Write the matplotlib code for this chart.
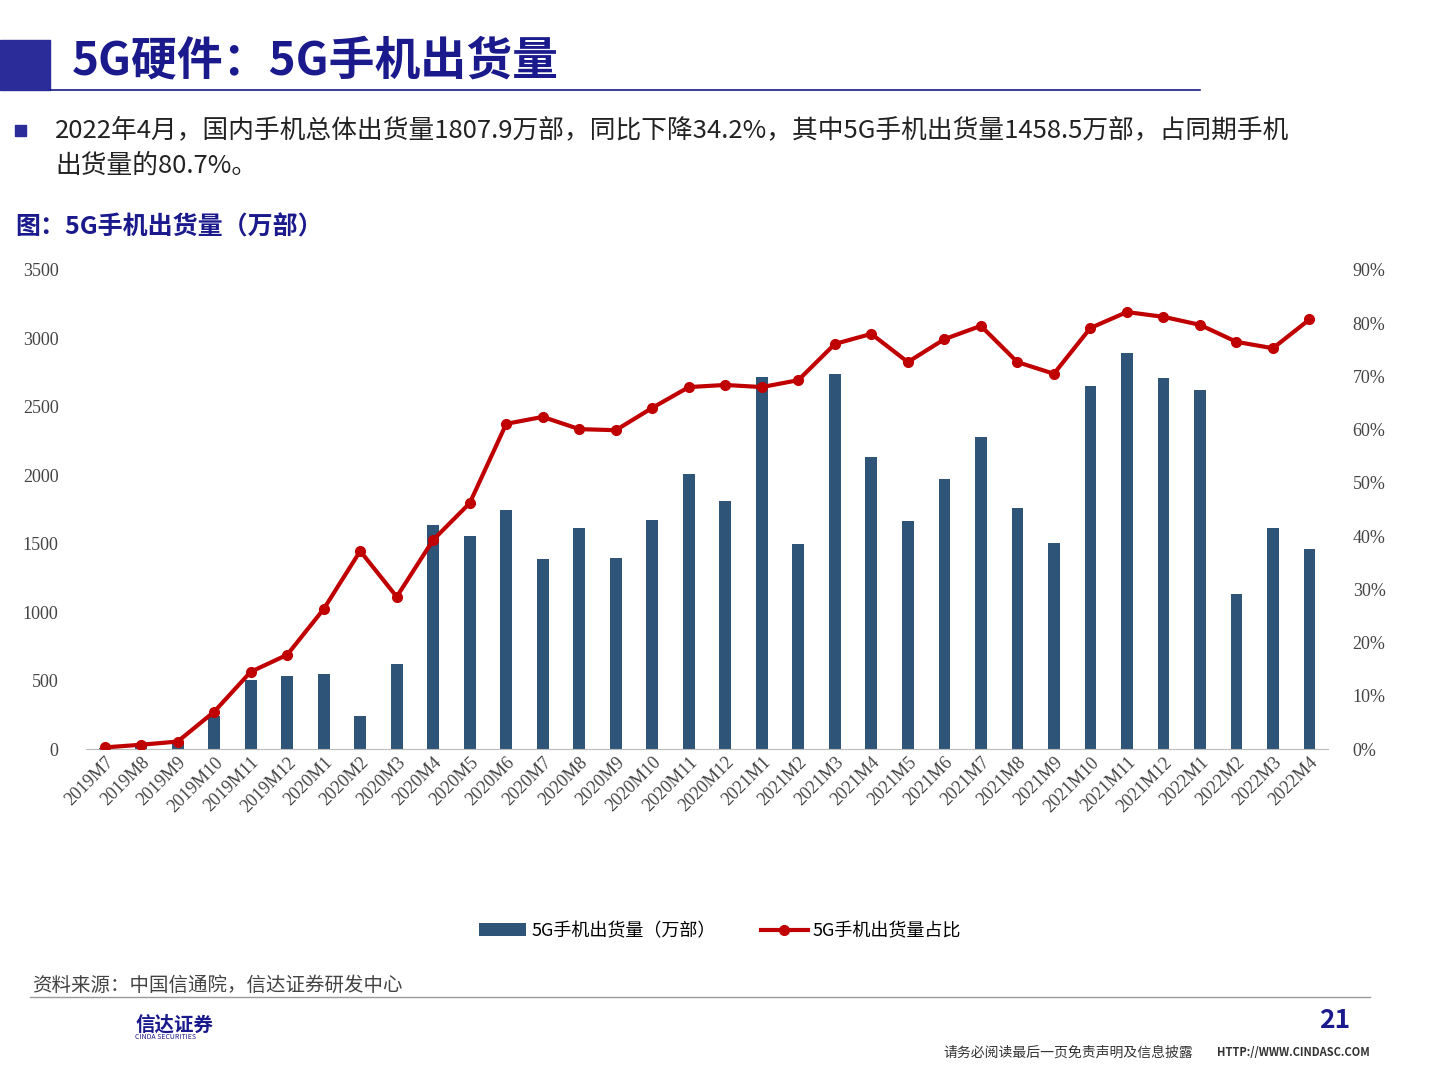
import matplotlib
matplotlib.use("Agg")
import matplotlib.pyplot as plt
import numpy as np
from matplotlib.patches import Rectangle
from matplotlib.lines import Line2D

plt.rcParams["font.family"] = ["Noto Sans CJK SC"]

categories = ["2019M7","2019M8","2019M9","2019M10","2019M11","2019M12",
              "2020M1","2020M2","2020M3","2020M4","2020M5","2020M6","2020M7","2020M8","2020M9","2020M10","2020M11","2020M12",
              "2021M1","2021M2","2021M3","2021M4","2021M5","2021M6","2021M7","2021M8","2021M9","2021M10","2021M11","2021M12",
              "2022M1","2022M2","2022M3","2022M4"]
shipments = [10, 20, 50, 240, 507, 534, 546, 238, 620, 1638, 1556, 1749, 1388, 1615, 1396, 1672, 2008, 1815,
             2720, 1497, 2742, 2132, 1665, 1972, 2279, 1760, 1505, 2652, 2893, 2712, 2624, 1133, 1615, 1458.5]
share = [0.3, 0.8, 1.4, 7.0, 14.5, 17.7, 26.3, 37.2, 28.6, 39.3, 46.2, 61.1, 62.4, 60.1, 59.9, 64.1, 68.0, 68.4,
         68.0, 69.3, 76.1, 78.0, 72.7, 77.0, 79.5, 72.7, 70.5, 79.1, 82.1, 81.2, 79.7, 76.5, 75.3, 80.7]

BAR = "#2e5578"
RED = "#c00000"
NAVY = "#1a1a8c"
fig = plt.figure(figsize=(14.4, 10.8), dpi=100)

# header
fig.patches.append(Rectangle((0, 1-90/1080), 50/1440, 50/1080, transform=fig.transFigure, color="#2b2b9a"))
fig.text(72/1440, 1-62/1080, "5G硬件：5G手机出货量", fontsize=33, fontweight="bold", color=NAVY, va="center")
fig.add_artist(Line2D([50/1440, 1200/1440], [1-90/1080]*2, color=NAVY, lw=1.2))
fig.patches.append(Rectangle((15/1440, 1-136/1080), 11/1440, 11/1080, transform=fig.transFigure, color="#2b2b9a"))
fig.text(55/1440, 1-130/1080, "2022年4月，国内手机总体出货量1807.9万部，同比下降34.2%，其中5G手机出货量1458.5万部，占同期手机",
         fontsize=18.5, va="center", color="#222222")
fig.text(55/1440, 1-166/1080, "出货量的80.7%。", fontsize=18.5, va="center", color="#222222")
fig.text(15/1440, 1-227/1080, "图：5G手机出货量（万部）", fontsize=18, fontweight="bold", va="center", color=NAVY)

ax = fig.add_axes([0.06, 1-749/1080, 0.862, 479/1080])
x = np.arange(len(categories))
ax.bar(x, shipments, width=0.32, color=BAR, label="5G手机出货量（万部）", zorder=2)
ax.set_ylim(0, 3500)
ax.set_yticks(range(0, 3501, 500))
ax.set_xlim(-0.5, len(categories)-0.5)
ax.set_xticks(x)
ax.set_xticklabels(categories, rotation=45, ha="right", rotation_mode="anchor", fontsize=13,
                   fontfamily="Liberation Serif", color="#444444")
for s in ["top", "right", "left"]:
    ax.spines[s].set_visible(False)
ax.spines["bottom"].set_color("#bbbbbb")
ax.tick_params(axis="both", length=0, labelsize=13, colors="#444444")
for t in ax.get_yticklabels():
    t.set_fontfamily("Liberation Serif")
ax.tick_params(axis="y", pad=20)

ax2 = ax.twinx()
ax2.plot(x, share, color=RED, lw=3, marker="o", markersize=7, label="5G手机出货量占比", zorder=3)
ax2.set_ylim(0, 90)
ax2.set_yticks(range(0, 91, 10))
ax2.set_yticklabels([f"{v}%" for v in range(0, 91, 10)], fontfamily="Liberation Serif")
for s in ["top", "right", "left", "bottom"]:
    ax2.spines[s].set_visible(False)
ax2.tick_params(axis="y", length=0, labelsize=13, colors="#444444", pad=18)

h1, l1 = ax.get_legend_handles_labels()
h2, l2 = ax2.get_legend_handles_labels()
fig.legend(h1+h2, l1+l2, loc="center", bbox_to_anchor=(0.5, 1-931/1080), ncol=2, frameon=False,
           fontsize=13, handlelength=2.6, handletextpad=0.3, columnspacing=2.5)

# footer
fig.text(32/1440, 1-985/1080, "资料来源：中国信通院，信达证券研发中心", fontsize=14, style="italic", color="#444444", va="center")
fig.add_artist(Line2D([30/1440, 1370/1440], [1-997/1080]*2, color="#999999", lw=1))
fig.text(1350/1440, 1-1021/1080, "21", fontsize=19, fontweight="bold", color=NAVY, ha="right", va="center")
fig.text(135/1440, 1-1025/1080, "信达证券", fontsize=14, fontweight="bold", color=NAVY, va="center")
fig.text(135/1440, 1-1037/1080, "CINDA SECURITIES", fontsize=5, color=NAVY, va="center")
fig.text(1193/1440, 1-1053/1080, "请务必阅读最后一页免责声明及信息披露", fontsize=10, color="#333333", ha="right", va="center")
fig.text(1370/1440, 1-1053/1080, "HTTP://WWW.CINDASC.COM", fontsize=8, fontweight="bold", color="#333333", ha="right", va="center")

fig.savefig("out.png", dpi=100)
